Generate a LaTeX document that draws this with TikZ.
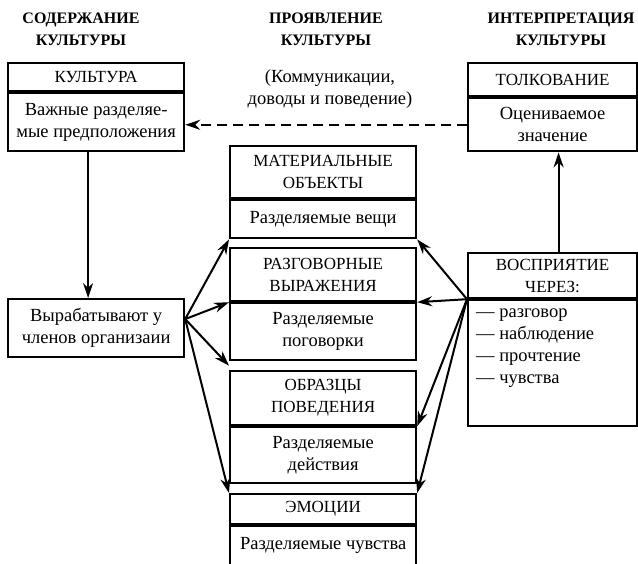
\documentclass[tikz,border=0pt]{standalone}
\usepackage{fontspec}
\setmainfont{Liberation Serif}
\usetikzlibrary{positioning,arrows.meta,calc}

\begin{document}
\begin{tikzpicture}
	[
		x = 1pt, y = -1pt,
		every node/.append style = {font=\fontsize{18.5}{22}\selectfont, inner sep=0pt, align=center},
		heading/.style = {font=\fontsize{16}{22}\selectfont\bfseries},
		caps/.style = {font=\fontsize{17}{22}\selectfont},
		box/.style 2 args = {draw, line width=2.2pt, minimum width=#1, minimum height=#2},
		arr/.style = {line width=2pt, -{Stealth[length=15pt, width=10pt]}},
		dasharr/.style = {arr, dash pattern=on 10pt off 6pt}]

	\useasboundingbox (0,0) rectangle (638,564);

	\node[heading] (hcont) at (81,29) {СОДЕРЖАНИЕ\\КУЛЬТУРЫ};
	\node[heading] (hshow) at (326,29) {ПРОЯВЛЕНИЕ\\КУЛЬТУРЫ};
	\node[heading] (hinter) at (561,29) {ИНТЕРПРЕТАЦИЯ\\КУЛЬТУРЫ};
	\node (commnote) at (330,89) {(Коммуникации,\\доводы и поведение)};

	\node[box={176pt}{28pt}, caps, anchor=north west] (kult) at (7,62) {КУЛЬТУРА};
	\node[box={176pt}{58pt}, below=0pt of kult] (kultbody) {Важные разделяе-\\мые предположения};
	\node[box={176pt}{58pt}, anchor=north west] (vyr) at (7,298) {Вырабатывают у\\членов организаии};

	\node[box={169pt}{33pt}, caps, anchor=north west] (tolk) at (467,62) {ТОЛКОВАНИЕ};
	\node[box={169pt}{53pt}, below=0pt of tolk] (tolkbody) {Оцениваемое\\значение};
	\node[box={169pt}{45pt}, caps, anchor=north west] (vosp) at (467,252) {ВОСПРИЯТИЕ\\ЧЕРЕЗ:};
	\node[box={169pt}{126pt}, below=0pt of vosp] (vospbody) {};
	\node[anchor=north west, align=left] (vosplist) at ([xshift=9pt, yshift=-9pt]vospbody.north west)
		{— разговор\\— наблюдение\\— прочтение\\— чувства};

	\node[box={186pt}{52pt}, caps, anchor=north west] (mat) at (229,145) {МАТЕРИАЛЬНЫЕ\\ОБЪЕКТЫ};
	\node[box={186pt}{38pt}, below=0pt of mat] (matbody) {Разделяемые вещи};
	\node[box={186pt}{53pt}, caps, anchor=north west] (razg) at (229,247) {РАЗГОВОРНЫЕ\\ВЫРАЖЕНИЯ};
	\node[box={186pt}{57pt}, below=0pt of razg] (razgbody) {Разделяемые\\поговорки};
	\node[box={186pt}{54pt}, caps, anchor=north west] (obr) at (229,370) {ОБРАЗЦЫ\\ПОВЕДЕНИЯ};
	\node[box={186pt}{56pt}, below=0pt of obr] (obrbody) {Разделяемые\\действия};
	\node[box={186pt}{30pt}, caps, anchor=north west] (emo) at (229,493) {ЭМОЦИИ};
	\node[box={186pt}{39pt}, below=0pt of emo] (emobody) {Разделяемые чувства};

	\draw[arr] ([xshift=-8pt]kultbody.south) -- ([xshift=-8pt]vyr.north);
	\draw[dasharr] (tolkbody.west) -- (tolkbody.west -| kultbody.east);
	\draw[arr] ([xshift=6pt]vosp.north) -- ([xshift=6pt]tolkbody.south);

	\coordinate (vyrout) at ([yshift=9pt]vyr.east);
	\coordinate (gapleft) at ($(razgbody.south west)!0.5!(obr.north west)$);
	\foreach \target in {matbody.south west, razg.south west, gapleft, emo.north west}
		\draw[arr] (vyrout) -- (\target);

	\coordinate (vospin) at (vosp.south west);
	\foreach \target in {matbody.south east, razg.south east, obr.south east, emo.north east}
		\draw[arr] (vospin) -- (\target);
\end{tikzpicture}
\end{document}
